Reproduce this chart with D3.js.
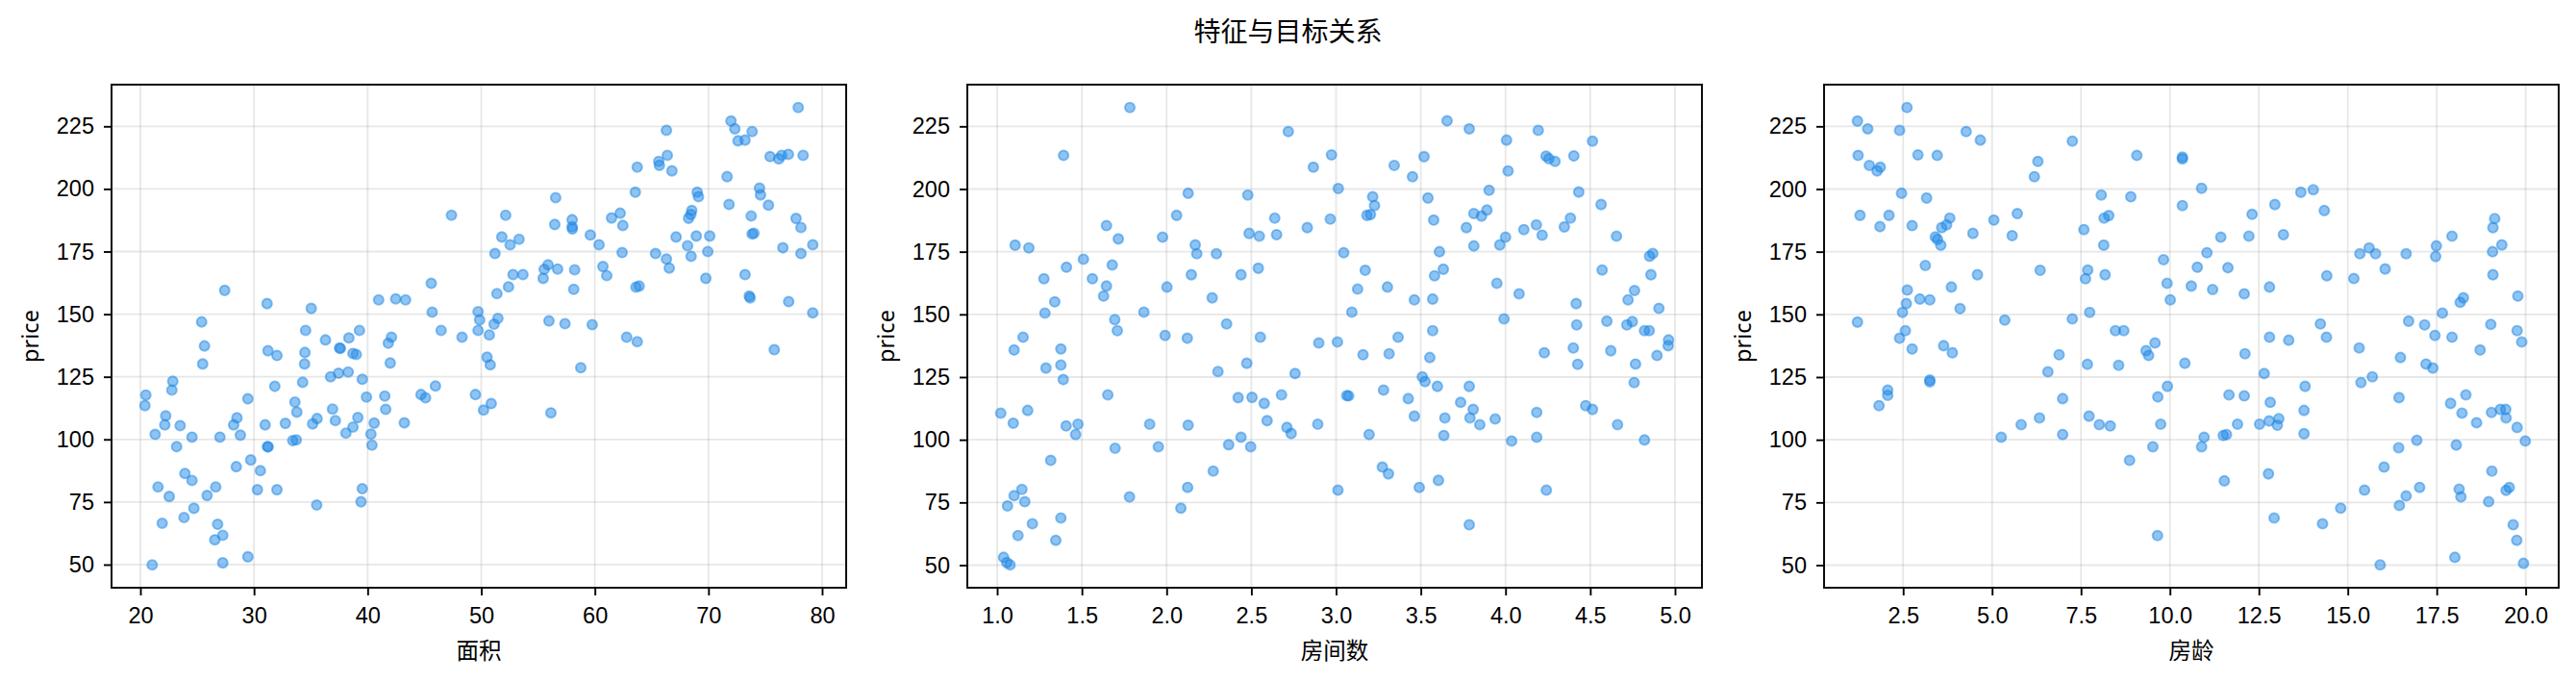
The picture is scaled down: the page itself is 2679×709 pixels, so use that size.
<!DOCTYPE html>
<html>
<head>
<meta charset="utf-8">
<script src="https://cdn.jsdelivr.net/npm/d3@7"></script>
<style>
  html, body { margin: 0; padding: 0; background: #fff; }
  svg { display: block; font-family: "Noto Sans", "Noto Sans CJK SC", sans-serif; }
</style>
</head>
<body>
<svg id="chart"></svg>
<script>
const width = 2679
const height = 709

const title = '特征与目标关系'
const yLabel = 'price'
const xLabels = ['面积', '房间数', '房龄']

const priceTicks = [50, 75, 100, 125, 150, 175, 200, 225]
const areaTicks = [20, 30, 40, 50, 60, 70, 80]
const roomsTicks = [1.0, 1.5, 2.0, 2.5, 3.0, 3.5, 4.0, 4.5, 5.0]
const ageTicks = [2.5, 5.0, 7.5, 10.0, 12.5, 15.0, 17.5, 20.0]

// [面积, price]
const areaData = [
  [47.38,189.5],[27.42,159.5],[31.15,154.2],[35.04,152.3],[40.97,155.7],[42.47,156.1],[43.34,155.7],[45.6,162.3],
  [45.68,150.8],[46.47,143.5],[48.31,140.8],[25.39,146.9],[25.64,137.3],[25.48,130.1],[22.85,123.2],[22.77,119.7],
  [20.48,117.7],[20.4,113.5],[22.23,109.4],[22.15,105.8],[23.5,105.5],[21.3,102.0],[24.54,100.9],[23.19,97.1],
  [27.0,100.9],[28.5,108.6],[28.21,105.8],[28.8,101.7],[29.46,116.2],[31.23,135.4],[32.02,133.5],[31.83,121.2],
  [34.54,143.5],[34.48,134.7],[34.45,130.1],[34.28,122.8],[36.29,139.7],[37.53,136.5],[37.6,136.3],[38.35,140.5],
  [39.28,143.5],[38.71,134.3],[39.0,133.9],[36.74,125.0],[37.44,126.4],[38.29,126.9],[39.53,124.0],[39.9,116.9],
  [41.82,138.4],[42.1,140.8],[41.99,130.5],[41.51,117.3],[41.59,112.0],[40.58,106.5],[40.29,102.1],[40.38,97.7],
  [39.14,108.7],[38.71,104.9],[38.09,102.5],[37.16,107.5],[36.91,112.1],[35.55,108.3],[35.16,106.2],[33.6,114.9],
  [33.77,110.9],[32.76,106.4],[30.98,105.8],[33.41,99.5],[33.72,99.8],[31.18,97.1],[31.25,97.0],[29.71,91.8],
  [28.44,89.1],[30.56,87.5],[30.3,79.9],[32.02,79.9],[35.52,73.8],[39.53,80.3],[39.42,75.1],[23.92,86.4],
  [24.54,83.6],[21.55,81.0],[22.54,77.2],[26.63,81.0],[25.87,77.6],[24.71,72.5],[23.84,68.8],[21.92,66.5],
  [26.8,66.1],[27.25,61.7],[26.55,59.9],[29.46,53.1],[27.25,50.7],[21.04,49.9],[44.7,117.9],[45.1,116.6],
  [45.97,121.3],[43.23,106.6],
  [77.9,232.5],[71.98,227.1],[72.32,224.0],[72.6,219.2],[73.22,219.5],[73.84,222.9],[66.3,223.4],[75.42,212.9],
  [76.19,212.0],[76.44,213.4],[77.03,213.8],[78.33,213.4],[65.62,211.0],[65.68,209.4],[66.38,213.4],[66.78,207.2],
  [63.73,208.7],[63.56,198.7],[71.64,204.9],[71.81,193.8],[74.49,200.3],[74.58,197.6],[75.28,193.5],[73.76,189.2],
  [73.84,182.0],[74.0,182.3],[77.71,188.2],[78.14,184.6],[76.55,176.5],[78.14,174.2],[79.18,177.7],[69.01,198.7],
  [69.12,196.9],[68.53,191.4],[68.45,189.8],[68.25,188.3],[67.15,180.8],[68.93,181.2],[70.11,181.2],[68.16,177.3],
  [68.47,173.1],[69.94,175.0],[69.77,164.3],[73.22,165.8],[73.59,157.2],[73.67,156.5],[77.06,155.0],[79.18,150.5],
  [75.79,135.8],[65.34,174.2],[66.3,172.0],[66.55,168.4],[61.47,188.4],[62.23,190.3],[62.46,185.4],[62.4,174.6],
  [59.6,181.6],[60.37,177.7],[60.71,169.0],[61.05,165.4],[63.62,160.8],[63.9,161.2],[62.8,140.8],[63.73,139.0],
  [59.77,145.8],[56.55,196.5],[56.47,185.8],[58.0,187.7],[58.0,184.9],[58.02,184.0],[55.88,169.7],[55.54,167.9],
  [55.45,164.3],[56.72,168.0],[58.22,167.7],[58.14,159.9],[55.96,147.3],[57.37,146.2],[58.76,128.6],[56.13,110.6],
  [52.15,189.5],[51.81,180.8],[52.54,177.7],[53.33,179.9],[51.21,174.2],[52.8,165.8],[53.67,165.8],[52.4,160.9],
  [51.38,158.2],[49.72,151.0],[49.86,147.7],[49.72,143.5],[50.71,141.7],[51.13,146.0],[51.47,148.3],[50.51,132.8],
  [50.79,129.8],[49.49,117.9],[50.2,111.7],[50.88,114.3]
]

// [房间数, price]
const roomsData = [
  [1.783,232.5],[1.392,213.4],[2.127,198.3],[2.479,197.6],[2.059,189.5],[2.638,188.4],[2.649,181.8],[2.487,182.3],
  [2.547,181.2],[1.976,180.8],[1.645,185.4],[1.715,180.1],[1.106,177.6],[1.187,176.5],[1.509,172.0],[1.409,168.8],
  [1.679,169.7],[2.169,177.7],[2.178,174.2],[2.294,174.2],[2.541,168.4],[2.439,165.8],[2.146,165.8],[1.276,164.2],
  [1.562,164.2],[1.645,161.3],[1.628,157.3],[2.002,160.9],[1.34,155.0],[1.282,150.5],[1.866,150.9],[2.269,156.6],
  [2.354,146.2],[1.694,147.9],[1.709,143.5],[1.991,141.6],[2.122,140.5],[2.553,140.9],[1.153,140.9],[1.1,135.8],
  [1.376,136.2],[1.376,129.8],[1.39,124.0],[1.288,128.6],[2.473,130.5],[2.303,127.2],[1.653,117.9],[2.422,116.8],
  [2.504,116.9],[2.576,114.5],[2.593,107.6],[1.021,110.6],[1.095,106.6],[1.18,111.7],[1.407,105.5],[1.477,106.2],
  [1.463,102.1],[1.9,106.2],[2.127,105.8],[2.439,101.0],[2.366,98.0],[2.496,97.2],[1.696,96.6],[1.951,97.2],
  [1.316,91.8],[2.275,87.5],[2.124,81.0],[1.781,77.2],[2.084,72.7],[1.146,80.2],[1.1,77.7],[1.061,73.6],
  [1.163,75.3],[1.208,66.5],[1.123,61.8],[1.376,68.8],[1.346,59.9],[1.038,53.1],[1.057,51.0],[1.076,50.1],
  [2.718,222.9],[3.655,227.2],[3.786,224.0],[4.006,219.5],[4.193,223.4],[4.513,219.1],[2.866,208.7],[2.973,213.6],
  [3.343,209.4],[3.451,204.9],[3.519,212.9],[4.015,207.2],[4.239,213.1],[4.256,212.1],[4.292,211.0],[4.403,213.2],
  [3.013,200.2],[3.216,196.9],[3.227,193.4],[3.182,189.5],[3.203,189.8],[3.542,196.4],[3.576,187.6],[3.903,199.5],
  [3.89,191.6],[3.858,189.2],[3.813,190.2],[3.769,184.6],[3.813,177.3],[3.966,177.7],[4.0,180.8],[4.108,183.8],
  [4.182,185.7],[4.216,181.6],[4.347,184.9],[4.383,188.4],[4.432,198.8],[4.564,193.8],[4.655,181.2],[2.83,184.6],
  [2.966,188.0],[3.045,174.6],[3.172,167.6],[3.127,160.1],[3.303,160.9],[3.093,150.9],[3.61,175.0],[3.633,168.0],
  [3.581,165.4],[3.57,156.1],[3.462,155.8],[3.949,162.4],[4.08,158.2],[3.991,148.2],[4.57,167.7],[4.417,154.3],
  [4.42,145.8],[4.85,173.2],[4.869,174.3],[4.858,165.8],[4.761,159.5],[4.723,155.8],[4.905,152.4],[4.598,147.3],
  [4.716,145.8],[4.748,147.1],[4.82,143.5],[4.848,143.5],[4.962,139.8],[4.96,137.5],[4.894,133.6],[4.767,130.2],
  [4.759,122.8],[4.621,135.5],[4.4,136.6],[4.426,130.1],[4.229,134.7],[3.57,143.5],[3.553,132.8],[3.366,140.9],
  [3.313,134.3],[3.159,133.9],[3.008,139.0],[2.898,138.6],[2.758,126.4],[2.678,117.9],[2.71,104.9],[2.735,102.5],
  [2.892,106.2],[3.063,117.6],[3.074,117.5],[3.195,102.1],[3.28,119.8],[3.426,116.4],[3.462,109.4],[3.509,125.1],
  [3.525,123.2],[3.598,121.3],[3.786,121.3],[3.735,114.9],[3.809,112.1],[3.79,108.7],[3.848,106.0],[3.939,108.3],
  [3.642,108.7],[3.636,101.7],[4.184,110.9],[4.184,101.0],[4.036,99.5],[4.473,113.6],[4.513,112.1],[4.661,106.0],
  [4.82,99.9],[3.273,89.1],[3.309,86.4],[3.011,79.9],[3.491,81.0],[3.604,83.8],[4.241,79.9],[3.786,66.1]
]

// [房龄, price]
const ageData = [
  [1.216,227.1],[1.505,224.0],[1.234,213.4],[1.551,209.4],[1.768,207.2],[1.858,208.7],[2.4,223.4],[2.608,232.5],
  [2.916,213.6],[3.458,213.4],[4.272,222.9],[4.67,219.5],[7.256,219.1],[6.288,211.0],[6.189,204.9],[9.07,213.4],
  [2.455,198.3],[3.16,196.4],[1.288,189.5],[2.102,189.5],[1.849,185.0],[2.753,185.4],[3.585,184.6],[3.721,185.7],
  [3.811,188.4],[3.404,180.9],[3.467,179.9],[3.558,177.6],[4.462,182.3],[5.05,187.6],[5.71,190.2],[5.565,181.4],
  [7.581,183.8],[8.07,197.6],[8.9,196.9],[8.15,188.4],[8.28,189.4],[8.14,177.6],[7.69,167.7],[7.627,164.2],
  [8.178,165.8],[6.352,167.6],[4.589,165.8],[3.124,169.5],[3.856,160.9],[2.618,159.7],[2.97,156.1],[3.25,155.8],
  [2.59,154.3],[2.482,150.8],[4.1,152.3],[1.216,146.9],[2.563,143.5],[2.4,140.5],[2.753,136.2],[3.639,137.5],
  [3.883,134.7],[5.357,147.7],[7.256,148.2],[7.744,150.8],[8.468,143.5],[8.703,143.5],[6.885,133.9],[6.569,127.1],
  [7.681,130.1],[8.558,129.7],[2.066,119.8],[2.066,117.7],[1.822,113.6],[3.25,123.8],[3.25,123.1],[6.984,116.4],
  [5.818,106.0],[6.333,108.7],[5.258,101.0],[6.984,102.1],[7.726,109.4],[8.015,106.0],[8.322,105.5],[8.865,91.8],
  [10.35,212.7],[10.35,212.0],[10.89,200.3],[10.35,193.4],[12.31,189.9],[12.95,193.8],[13.68,198.7],[14.03,199.7],
  [14.34,191.4],[11.43,180.8],[12.22,181.2],[13.19,181.8],[11.04,174.6],[9.82,171.8],[10.77,168.8],[11.63,168.6],
  [9.92,162.4],[10.6,161.3],[11.2,159.9],[10.01,155.8],[12.09,158.2],[12.8,160.9],[14.41,165.4],[15.17,164.3],
  [15.34,174.2],[15.6,176.5],[15.78,174.2],[16.05,168.1],[16.64,174.2],[17.49,177.3],[17.47,173.1],[17.93,181.2],
  [19.13,188.2],[19.08,184.6],[19.07,175.0],[19.33,177.7],[19.08,165.8],[19.78,157.3],[18.16,154.8],[18.25,156.6],
  [17.66,150.5],[16.71,147.3],[17.16,145.8],[17.45,141.6],[17.93,140.9],[19.02,146.0],[19.76,143.5],[19.89,139.0],
  [18.72,135.8],[16.48,132.8],[17.2,130.2],[17.39,128.6],[15.32,136.6],[15.69,125.1],[15.37,122.8],[14.23,146.2],
  [14.4,140.9],[13.34,139.7],[12.8,140.9],[12.11,134.3],[10.42,130.5],[9.58,138.6],[9.33,135.5],[9.4,133.6],
  [9.93,121.3],[9.66,117.1],[9.74,106.2],[9.52,97.2],[10.96,101.0],[10.89,97.2],[11.5,101.7],[11.59,102.1],
  [11.9,106.2],[11.66,117.9],[12.09,117.5],[12.65,126.4],[12.82,114.9],[12.52,106.2],[12.79,107.5],[13.06,108.4],
  [13.02,105.8],[13.8,121.3],[13.77,111.7],[13.77,102.4],[11.53,83.6],[12.77,86.4],[12.93,68.8],[9.65,61.8],
  [14.29,66.5],[14.8,72.7],[15.47,79.9],[16.02,89.1],[16.43,96.8],[16.94,99.8],[16.44,116.8],[16.45,73.8],
  [16.64,77.6],[17.02,81.0],[17.89,114.5],[18.32,117.9],[18.21,110.6],[18.62,106.8],[18.05,97.9],[19.04,110.9],
  [19.29,112.1],[19.44,112.1],[19.45,108.7],[19.76,104.9],[19.99,99.5],[19.05,87.5],[18.13,80.3],[18.18,77.2],
  [18.96,75.3],[19.45,79.8],[19.54,81.0],[19.65,66.1],[19.75,59.9],[19.94,50.7],[18.01,53.1],[15.91,50.1]
]

const pointColor = '#1E88E5'
const fontSize = 23.5

const panelTop = 88
const panelHeight = 523
const panelWidth = 764
const panelLefts = [116, 1006, 1897]

const panels = [
  { data: areaData, ticks: areaTicks, format: d3.format('d') },
  { data: roomsData, ticks: roomsTicks, format: d3.format('.1f') },
  { data: ageData, ticks: ageTicks, format: d3.format('.1f') },
]

// matplotlib style: 5% margin around the data extent
function paddedDomain(values) {
  const [lo, hi] = d3.extent(values)
  const pad = (hi - lo) * 0.05
  return [lo - pad, hi + pad]
}

const svg = d3.select('#chart').attr('width', width).attr('height', height)

svg
  .append('text')
  .attr('x', width / 2)
  .attr('y', 43)
  .attr('text-anchor', 'middle')
  .style('font-size', '28px')
  .text(title)

panels.forEach((p, i) => {
  const g = svg.append('g').attr('transform', `translate(${panelLefts[i]},${panelTop})`)

  const x = d3.scaleLinear().domain(paddedDomain(p.data.map((d) => d[0]))).range([0, panelWidth])
  const y = d3.scaleLinear().domain(paddedDomain(p.data.map((d) => d[1]))).range([panelHeight, 0])

  // grid
  const grid = g.append('g').attr('stroke', '#b0b0b0').attr('stroke-opacity', 0.3).attr('stroke-width', 1.8)
  grid
    .selectAll('line.gx')
    .data(p.ticks)
    .enter()
    .append('line')
    .attr('x1', (d) => x(d))
    .attr('x2', (d) => x(d))
    .attr('y1', 0)
    .attr('y2', panelHeight)
  grid
    .selectAll('line.gy')
    .data(priceTicks)
    .enter()
    .append('line')
    .attr('x1', 0)
    .attr('x2', panelWidth)
    .attr('y1', (d) => y(d))
    .attr('y2', (d) => y(d))

  // points
  g.append('g')
    .selectAll('circle')
    .data(p.data)
    .enter()
    .append('circle')
    .attr('cx', (d) => x(d[0]))
    .attr('cy', (d) => y(d[1]))
    .attr('r', 5.1)
    .attr('fill', pointColor)
    .attr('fill-opacity', 0.5)
    .attr('stroke', pointColor)
    .attr('stroke-opacity', 0.5)
    .attr('stroke-width', 1.9)

  // axes
  const xAxis = d3.axisBottom(x).tickValues(p.ticks).tickFormat(p.format).tickSize(8).tickSizeOuter(0).tickPadding(12.5)
  const yAxis = d3.axisLeft(y).tickValues(priceTicks).tickSize(8).tickSizeOuter(0).tickPadding(10)

  const gx = g.append('g').attr('transform', `translate(0,${panelHeight})`).call(xAxis)
  const gy = g.append('g').call(yAxis)
  ;[gx, gy].forEach((a) => {
    a.select('.domain').remove()
    a.selectAll('line').attr('stroke', '#000').attr('stroke-width', 1.9)
    a.selectAll('text').attr('fill', '#000').style('font-size', `${fontSize}px`).style('font-family', null)
  })

  // spines
  g.append('rect')
    .attr('width', panelWidth)
    .attr('height', panelHeight)
    .attr('fill', 'none')
    .attr('stroke', '#000')
    .attr('stroke-width', 1.9)

  // labels
  g.append('text')
    .attr('x', panelWidth / 2)
    .attr('y', panelHeight + 74)
    .attr('text-anchor', 'middle')
    .style('font-size', `${fontSize}px`)
    .text(xLabels[i])

  g.append('text')
    .attr('transform', `translate(-76,${panelHeight / 2}) rotate(-90)`)
    .attr('text-anchor', 'middle')
    .style('font-size', `${fontSize}px`)
    .text(yLabel)
})
</script>
</body>
</html>
